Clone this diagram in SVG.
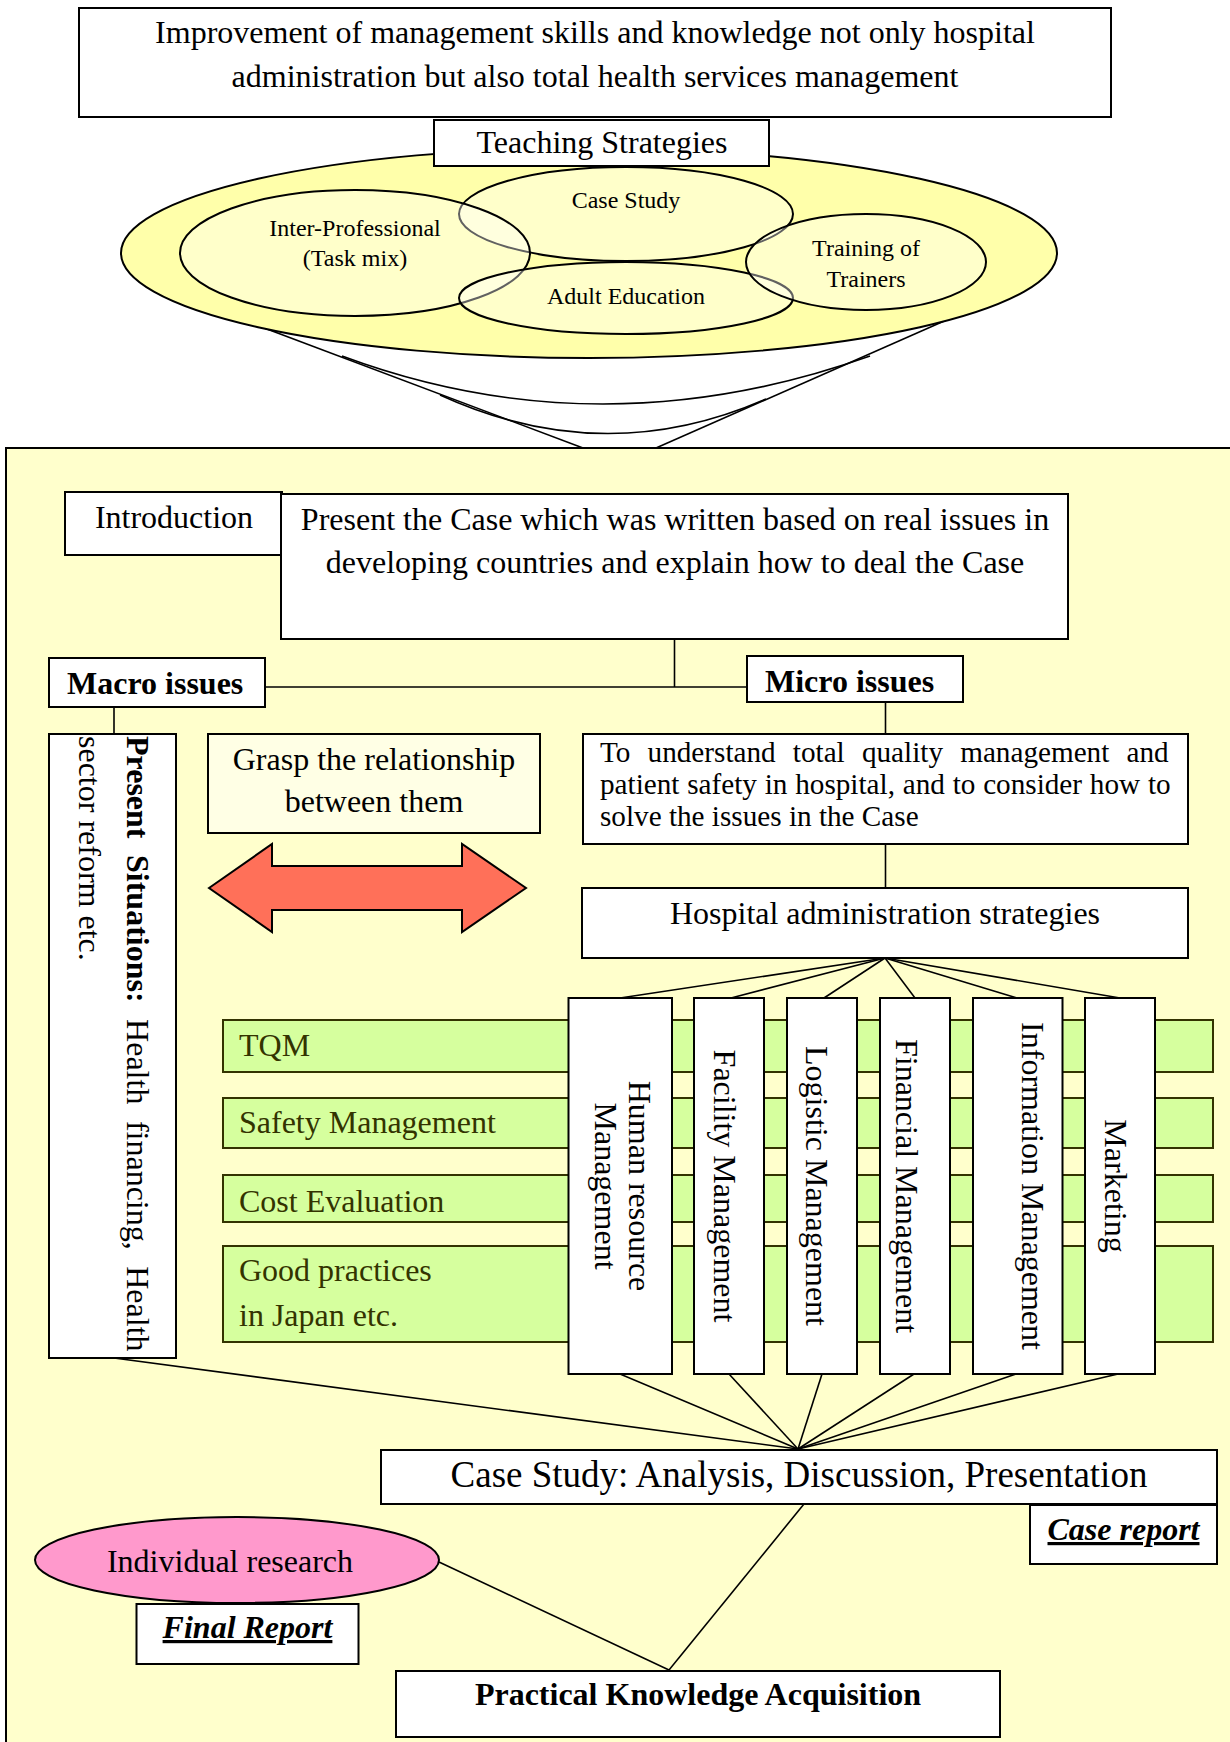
<svg xmlns="http://www.w3.org/2000/svg" width="1230" height="1742" viewBox="0 0 1230 1742">
<style>
  text { font-family: "Liberation Serif", "Times New Roman", serif; fill: #000; }
  .t32 { font-size: 32px; }
  .t24 { font-size: 24px; }
  .c { text-anchor: middle; }
  .b { font-weight: bold; }
  .bi { font-weight: bold; font-style: italic; text-decoration: underline; }
  .box { fill: #ffffff; stroke: #000; stroke-width: 2; }
  .inner { fill: #ffffff; fill-opacity: 0.38; stroke: #000; stroke-width: 2; }
  .bar { fill: #d6ff9e; stroke: #333300; stroke-width: 2; }
  .bartext { font-size: 32px; fill: #333300; }
  .ln { fill: none; stroke: #000; stroke-width: 1.6; }
</style>
<rect width="1230" height="1742" fill="#ffffff"/>

<g id="goal">
  <rect class="box" x="79" y="8" width="1032" height="109"/>
  <text class="t32 c" x="595" y="43">Improvement of management skills and knowledge not only hospital</text>
  <text class="t32 c" x="595" y="87">administration but also total health services management</text>
</g>

<g id="connectors-top">
  <line class="ln" x1="230" y1="315" x2="583" y2="448"/>
  <line class="ln" x1="951" y1="318" x2="656" y2="448"/>
  <path class="ln" d="M 342 356 Q 600 452 870 356"/>
  <path class="ln" d="M 440 395 Q 604 470 766 399"/>
</g>

<g id="teaching-strategies">
  <ellipse cx="589" cy="253" rx="468" ry="105" fill="#ffffaa" stroke="#000" stroke-width="2"/>
  <g id="case-study-strategy">
    <ellipse class="inner" cx="626" cy="214" rx="167" ry="47"/>
    <text class="t24 c" x="626" y="208">Case Study</text>
  </g>
  <g id="inter-professional">
    <ellipse class="inner" cx="355" cy="253" rx="175" ry="63"/>
    <text class="t24 c" x="355" y="236">Inter-Professional</text>
    <text class="t24 c" x="355" y="266">(Task mix)</text>
  </g>
  <g id="adult-education">
    <ellipse class="inner" cx="626" cy="298" rx="167" ry="36"/>
    <text class="t24 c" x="626" y="304">Adult Education</text>
  </g>
  <g id="training-of-trainers">
    <ellipse class="inner" cx="866" cy="262" rx="120" ry="48"/>
    <text class="t24 c" x="866" y="256">Training of</text>
    <text class="t24 c" x="866" y="287">Trainers</text>
  </g>
  <g id="teaching-label">
    <rect class="box" x="434" y="120" width="335" height="46"/>
    <text class="t32 c" x="602" y="153">Teaching Strategies</text>
  </g>
</g>

<g id="curriculum">
  <rect x="6" y="448" width="1240" height="1300" fill="#ffffcc" stroke="#000" stroke-width="2"/>
</g>

<g id="connectors">
  <line class="ln" x1="674.5" y1="639" x2="674.5" y2="687"/>
  <line class="ln" x1="265" y1="687" x2="747" y2="687"/>
  <line class="ln" x1="114" y1="707" x2="114" y2="734"/>
  <line class="ln" x1="885.5" y1="702" x2="885.5" y2="734"/>
  <line class="ln" x1="885.5" y1="844" x2="885.5" y2="888"/>
  <line class="ln" x1="885" y1="958" x2="620" y2="998"/>
  <line class="ln" x1="885" y1="958" x2="731" y2="998"/>
  <line class="ln" x1="885" y1="958" x2="824" y2="998"/>
  <line class="ln" x1="885" y1="958" x2="915" y2="998"/>
  <line class="ln" x1="885" y1="958" x2="1017" y2="998"/>
  <line class="ln" x1="885" y1="958" x2="1120" y2="998"/>
  <line class="ln" x1="114" y1="1358" x2="798" y2="1449"/>
  <line class="ln" x1="620" y1="1374" x2="798" y2="1449"/>
  <line class="ln" x1="729" y1="1374" x2="798" y2="1449"/>
  <line class="ln" x1="822" y1="1374" x2="798" y2="1449"/>
  <line class="ln" x1="914" y1="1374" x2="798" y2="1449"/>
  <line class="ln" x1="1016" y1="1374" x2="798" y2="1449"/>
  <line class="ln" x1="1118" y1="1374" x2="798" y2="1449"/>
  <line class="ln" x1="804" y1="1504" x2="669" y2="1670"/>
  <line class="ln" x1="439" y1="1562" x2="669" y2="1670"/>
</g>

<g id="introduction">
  <rect class="box" x="65" y="492" width="217" height="63"/>
  <text class="t32 c" x="174" y="528">Introduction</text>
</g>

<g id="present-case">
  <rect class="box" x="281" y="494" width="787" height="145"/>
  <text class="t32 c" x="675" y="530">Present the Case which was written based on real issues in</text>
  <text class="t32 c" x="675" y="573">developing countries and explain how to deal the Case</text>
</g>

<g id="macro-issues">
  <rect class="box" x="49" y="658" width="216" height="49"/>
  <text class="t32 b" x="67" y="694">Macro issues</text>
</g>

<g id="micro-issues">
  <rect class="box" x="747" y="656" width="216" height="46"/>
  <text class="t32 b" x="765" y="692">Micro issues</text>
</g>

<g id="present-situations">
  <rect class="box" x="49" y="734" width="127" height="624"/>
  <g transform="translate(127 736) rotate(90)">
    <text class="t32" x="0" y="0" word-spacing="8.5"><tspan font-weight="bold">Present Situations:</tspan> Health financing, Health</text>
    <text class="t32" x="0" y="48">sector reform etc.</text>
  </g>
</g>

<g id="grasp-relationship">
  <rect x="208" y="734" width="332" height="99" fill="#ffffe5" stroke="#000" stroke-width="2"/>
  <text class="t32 c" x="374" y="770">Grasp the relationship</text>
  <text class="t32 c" x="374" y="812">between them</text>
</g>

<g id="double-arrow">
  <polygon points="209,888 272,844 272,866 462,866 462,844 526,888 462,932 462,910 272,910 272,932" fill="#ff7059" stroke="#000" stroke-width="2"/>
</g>

<g id="micro-detail">
  <rect class="box" x="583" y="734" width="605" height="110"/>
  <text x="600" y="762" style="font-size:29.2px" word-spacing="9.9">To understand total quality management and</text>
  <text x="600" y="794" style="font-size:29.2px" word-spacing="0.5">patient safety in hospital, and to consider how to</text>
  <text x="600" y="826" style="font-size:29.2px">solve the issues in the Case</text>
</g>

<g id="hospital-strategies">
  <rect class="box" x="582" y="888" width="606" height="70"/>
  <text class="t32 c" x="885" y="924">Hospital administration strategies</text>
</g>

<g id="bar-tqm">
  <rect class="bar" x="223" y="1020" width="990" height="52"/>
  <text class="bartext" x="239" y="1056">TQM</text>
</g>
<g id="bar-safety">
  <rect class="bar" x="223" y="1098" width="990" height="50"/>
  <text class="bartext" x="239" y="1133">Safety Management</text>
</g>
<g id="bar-cost">
  <rect class="bar" x="223" y="1175" width="990" height="47"/>
  <text class="bartext" x="239" y="1212">Cost Evaluation</text>
</g>
<g id="bar-good-practices">
  <rect class="bar" x="223" y="1246" width="990" height="96"/>
  <text class="bartext" x="239" y="1281">Good practices</text>
  <text class="bartext" x="239" y="1326">in Japan etc.</text>
</g>

<g id="human-resource">
  <rect class="box" x="568.5" y="998" width="103.5" height="376"/>
  <g transform="translate(629 1186) rotate(90)">
    <text class="t32 c" x="0" y="0">Human resource</text>
    <text class="t32 c" x="0" y="34">Management</text>
  </g>
</g>
<g id="facility">
  <rect class="box" x="694" y="998" width="70" height="376"/>
  <text class="t32 c" transform="translate(714 1186) rotate(90)">Facility Management</text>
</g>
<g id="logistic">
  <rect class="box" x="787" y="998" width="70" height="376"/>
  <text class="t32 c" transform="translate(806 1186) rotate(90)">Logistic Management</text>
</g>
<g id="financial">
  <rect class="box" x="880" y="998" width="70" height="376"/>
  <text class="t32 c" transform="translate(896 1186) rotate(90)">Financial Management</text>
</g>
<g id="information">
  <rect class="box" x="973" y="998" width="89.5" height="376"/>
  <text class="t32 c" transform="translate(1022 1186) rotate(90)">Information Management</text>
</g>
<g id="marketing">
  <rect class="box" x="1085" y="998" width="70" height="376"/>
  <text class="t32 c" transform="translate(1105 1186) rotate(90)">Marketing</text>
</g>

<g id="case-study-activity">
  <rect class="box" x="381" y="1450" width="836" height="54"/>
  <text class="c" x="799" y="1487" style="font-size:37px">Case Study: Analysis, Discussion, Presentation</text>
</g>

<g id="case-report">
  <rect class="box" x="1030" y="1505" width="187" height="59"/>
  <text class="t32 bi c" x="1123.5" y="1540">Case report</text>
</g>

<g id="individual-research">
  <ellipse cx="237" cy="1560" rx="202" ry="43" fill="#ff99cc" stroke="#000" stroke-width="2"/>
  <text class="t32 c" x="230" y="1572">Individual research</text>
</g>

<g id="final-report">
  <rect class="box" x="136.5" y="1604" width="222" height="60"/>
  <text class="t32 bi c" x="247.5" y="1638">Final Report</text>
</g>

<g id="practical-knowledge">
  <rect class="box" x="396" y="1671" width="604" height="66"/>
  <text class="t32 b c" x="698" y="1705">Practical Knowledge Acquisition</text>
</g>
</svg>
